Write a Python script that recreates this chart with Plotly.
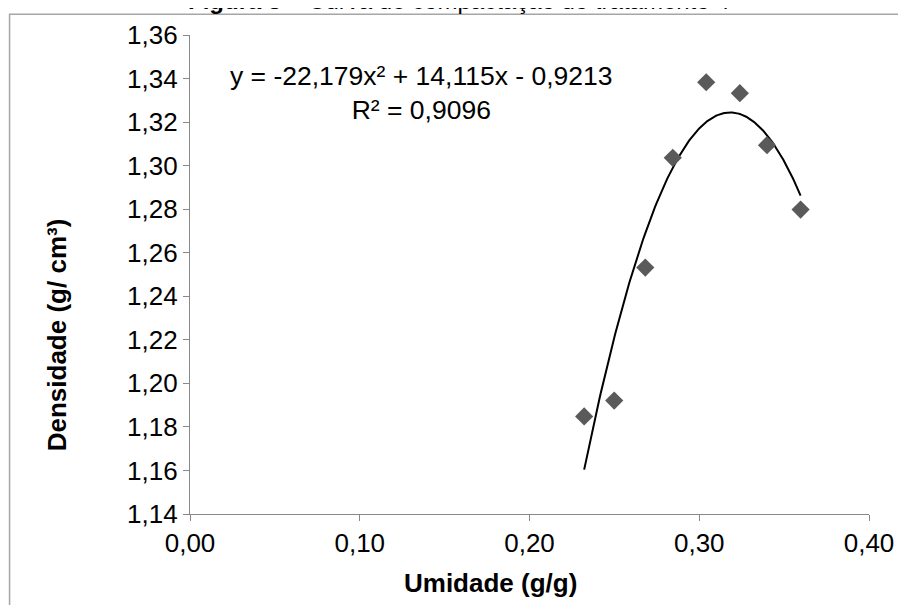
import numpy as np
import plotly.graph_objects as go

# Data
umidade = [0.2322, 0.2499, 0.2682, 0.2844, 0.3041, 0.3239, 0.3399, 0.3597]
densidade = [1.1848, 1.1921, 1.2532, 1.3036, 1.3383, 1.3333, 1.3094, 1.2798]

# Polynomial trendline coefficients shown on the chart (a x^2 + b x + c)
trend_coefs = [-22.179, 14.115, -0.9213]
equation_text = "y = -22,179x² + 14,115x - 0,9213<br>R² = 0,9096"

x_ticks = [0.0, 0.1, 0.2, 0.3, 0.4]
y_ticks = [1.14, 1.16, 1.18, 1.20, 1.22, 1.24, 1.26, 1.28, 1.30, 1.32, 1.34, 1.36]

title_text = "<b>Figura 5</b> – Curva de compactação do tratamento 4"
x_title = "<b>Umidade (g/g)</b>"
y_title = "<b>Densidade (g/ cm³)</b>"

FONT = "Liberation Sans, Arial, Helvetica, sans-serif"
AXIS_COLOR = "#888888"

trend_x = np.linspace(min(umidade), max(umidade), 200)
trend_y = np.polyval(trend_coefs, trend_x)

fig = go.Figure()
fig.add_trace(go.Scatter(
    x=trend_x, y=trend_y, mode="lines",
    line=dict(color="black", width=2), hoverinfo="skip", showlegend=False,
))
fig.add_trace(go.Scatter(
    x=umidade, y=densidade, mode="markers",
    marker=dict(symbol="diamond", size=14, color="#5a5a5a", line=dict(width=0)),
    showlegend=False,
))

# page has an 8px body margin; figure placed so it ends at the window edge
OFF = 8
W, H = 906 - OFF, 605 - OFF
# plot area in page pixels: x 190..873, y 31..514
ml = 190 - OFF
mr = W - (873 - OFF)
mt = 31 - OFF
mb = H - (514 - OFF)
pw, ph = W - ml - mr, H - mt - mb


def px_x(p):
    return (p - OFF - ml) / pw


def px_y(p):
    return 1 - (p - OFF - mt) / ph


fig.update_layout(
    width=W, height=H,
    margin=dict(l=ml, r=mr, t=mt, b=mb, pad=0),
    paper_bgcolor="white", plot_bgcolor="white",
    separators=",.",
    font=dict(family=FONT, size=26, color="black"),
    xaxis=dict(
        range=[0, 0.4], tickvals=x_ticks, tickformat=".2f",
        showgrid=False, zeroline=False,
        showline=True, linecolor=AXIS_COLOR, linewidth=1.3,
        ticks="outside", ticklen=6, tickcolor=AXIS_COLOR, tickwidth=1.3,
        tickfont=dict(size=26, family=FONT),
    ),
    yaxis=dict(
        range=[1.14, 1.36], tickvals=y_ticks, tickformat=".2f",
        showgrid=False, zeroline=False,
        showline=True, linecolor=AXIS_COLOR, linewidth=1.3,
        ticks="outside", ticklen=6, tickcolor=AXIS_COLOR, tickwidth=1.3,
        tickfont=dict(size=26, family=FONT),
    ),
    shapes=[dict(
        type="rect", xref="paper", yref="paper",
        x0=px_x(OFF + 0.5), x1=px_x(930), y0=px_y(10), y1=px_y(640),
        line=dict(color="#a6a6a6", width=1.5), fillcolor="rgba(0,0,0,0)",
        layer="below",
    )],
    annotations=[
        dict(
            text=equation_text, xref="paper", yref="paper",
            x=px_x(423), y=px_y(89), xanchor="center", yanchor="middle",
            showarrow=False, align="center",
            font=dict(size=26.5, family=FONT, color="black"),
        ),
        dict(
            text=x_title, xref="paper", yref="paper",
            x=px_x(492), y=px_y(584), xanchor="center", yanchor="middle",
            showarrow=False, font=dict(size=26, family=FONT, color="black"),
        ),
        dict(
            text=y_title, xref="paper", yref="paper", textangle=-90,
            x=px_x(57), y=px_y(333), xanchor="center", yanchor="middle",
            showarrow=False, font=dict(size=26, family=FONT, color="black"),
        ),
        dict(
            text=title_text, xref="paper", yref="paper",
            x=px_x(461), y=px_y(-4), xanchor="center", yanchor="middle",
            showarrow=False, font=dict(size=24, family=FONT, color="black"),
        ),
    ],
)

fig.write_html("out.html")
